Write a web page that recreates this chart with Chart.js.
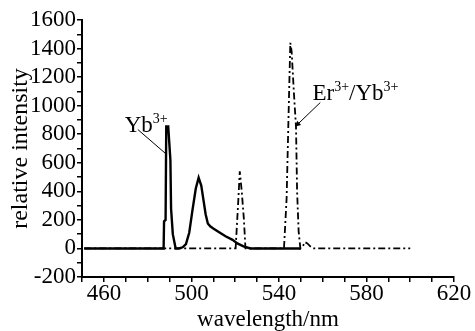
<!DOCTYPE html>
<html>
<head>
<meta charset="utf-8">
<script src="https://cdn.jsdelivr.net/npm/chart.js@4/dist/chart.umd.min.js"></script>
<style>
  html, body { margin: 0; padding: 0; background: #fff; }
  #wrap { width: 475px; height: 331px; }
</style>
</head>
<body>
<div id="wrap"><canvas id="spectrum"></canvas></div>
<script>
// Yb3+ emission (solid line)
const ybWavelength = [451, 487.3, 487.5, 488.2, 488.5, 489.4, 490.4, 490.7, 491.5, 492.8, 494.2, 496, 497.5, 499, 500.5, 502, 503.3, 504.5, 505.5, 506.5, 507.5, 508.6, 510, 512.5, 515.6, 518.8, 521, 523.8, 527, 550];
const ybIntensity  = [0, 0, 190, 200, 855, 855, 620, 280, 100, 0, 0, 8, 30, 110, 270, 420, 495, 440, 340, 240, 175, 155, 140, 115, 85, 60, 35, 14, 0, 0];

// Er3+/Yb3+ emission (dash-dot line)
const erWavelength = [451, 520.2, 521.3, 522.1, 523, 524, 524.7, 542.3, 543.5, 544.5, 545.2, 545.8, 546.8, 547.8, 548.3, 549, 549.8, 550.8, 551.8, 553, 554.3, 555.5, 600];
const erIntensity  = [0, 0, 300, 540, 400, 200, 0, 0, 350, 1000, 1440, 1380, 1100, 850, 400, 120, 0, 10, 45, 35, 15, 0, 0];

const xTickLabels = [460, 500, 540, 580, 620];
const yTickLabels = [-200, 0, 200, 400, 600, 800, 1000, 1200, 1400, 1600];

const toPoints = (xs, ys) => xs.map((x, i) => ({ x: x, y: ys[i] }));

const serif = '"Liberation Serif", "DejaVu Serif", serif';

// labels with leader lines, in data coordinates
const notes = [
  { parts: [['Yb', 0], ['3+', 1]], at: [469.5, 819], from: [475.5, 833], to: [488.7, 658], arrow: false },
  { parts: [['Er', 0], ['3+', 1], ['/Yb', 0], ['3+', 1]], at: [555.3, 1043], from: [558.9, 1022], to: [547.5, 854], arrow: true }
];

const notePlugin = {
  id: 'notes',
  afterDatasetsDraw(chart) {
    const ctx = chart.ctx;
    const xs = chart.scales.x, ys = chart.scales.y;
    ctx.save();
    ctx.fillStyle = '#000';
    ctx.strokeStyle = '#000';
    ctx.textBaseline = 'alphabetic';
    notes.forEach(n => {
      let px = xs.getPixelForValue(n.at[0]);
      const py = ys.getPixelForValue(n.at[1]);
      n.parts.forEach(([t, sup]) => {
        ctx.font = sup ? '14px ' + serif : '23px ' + serif;
        ctx.fillText(t, px, sup ? py - 9 : py);
        px += ctx.measureText(t).width;
      });
      const x1 = xs.getPixelForValue(n.from[0]), y1 = ys.getPixelForValue(n.from[1]);
      const x2 = xs.getPixelForValue(n.to[0]), y2 = ys.getPixelForValue(n.to[1]);
      ctx.lineWidth = 1;
      ctx.beginPath();
      ctx.moveTo(x1, y1);
      ctx.lineTo(x2, y2);
      ctx.stroke();
      if (n.arrow) {
        const a = Math.atan2(y2 - y1, x2 - x1);
        ctx.beginPath();
        ctx.moveTo(x2, y2);
        ctx.lineTo(x2 - 6 * Math.cos(a - 0.5), y2 - 6 * Math.sin(a - 0.5));
        ctx.lineTo(x2 - 6 * Math.cos(a + 0.5), y2 - 6 * Math.sin(a + 0.5));
        ctx.closePath();
        ctx.fill();
      }
    });
    ctx.restore();
  }
};

new Chart(document.getElementById('spectrum'), {
  type: 'line',
  data: {
    datasets: [
      {
        label: 'Er3+/Yb3+',
        data: toPoints(erWavelength, erIntensity),
        borderColor: '#000',
        borderWidth: 1.8,
        borderDash: [7, 3, 2, 3],
        pointRadius: 0,
        tension: 0,
        fill: false
      },
      {
        label: 'Yb3+',
        data: toPoints(ybWavelength, ybIntensity),
        borderColor: '#000',
        borderWidth: 2.4,
        pointRadius: 0,
        tension: 0,
        fill: false
      }
    ]
  },
  options: {
    responsive: true,
    maintainAspectRatio: false,
    animation: false,
    layout: { padding: { left: 0, right: 21, top: 20, bottom: 0 } },
    plugins: {
      legend: { display: false },
      tooltip: { enabled: false }
    },
    scales: {
      x: {
        type: 'linear',
        min: 450,
        max: 620,
        afterFit(scale) { scale.height = 54; },
        border: { display: true, color: '#000', width: 2 },
        grid: { drawOnChartArea: false, drawTicks: true, tickLength: 5, color: '#000', lineWidth: 1.5 },
        ticks: {
          stepSize: 10,
          autoSkip: false,
          maxRotation: 0,
          padding: 0,
          color: '#000',
          font: { family: serif, size: 23, lineHeight: 1 },
          callback: v => xTickLabels.includes(Math.round(v)) ? String(Math.round(v)) : ''
        },
        title: {
          display: true,
          text: 'wavelength/nm',
          color: '#000',
          font: { family: serif, size: 23, lineHeight: 1 },
          padding: { top: 0, bottom: 0 }
        }
      },
      y: {
        min: -200,
        max: 1600,
        afterFit(scale) { scale.width = 82; },
        border: { display: true, color: '#000', width: 2 },
        grid: { drawOnChartArea: false, drawTicks: true, tickLength: 5, color: '#000', lineWidth: 1.5 },
        ticks: {
          stepSize: 100,
          autoSkip: false,
          padding: 1,
          color: '#000',
          font: { family: serif, size: 23, lineHeight: 1 },
          callback: v => yTickLabels.includes(Math.round(v)) ? String(Math.round(v)) : ''
        },
        title: {
          display: true,
          text: 'relative intensity',
          color: '#000',
          font: { family: serif, size: 24, lineHeight: 1 },
          padding: { top: 9, bottom: 0 }
        }
      }
    }
  },
  plugins: [notePlugin]
});
</script>
</body>
</html>
